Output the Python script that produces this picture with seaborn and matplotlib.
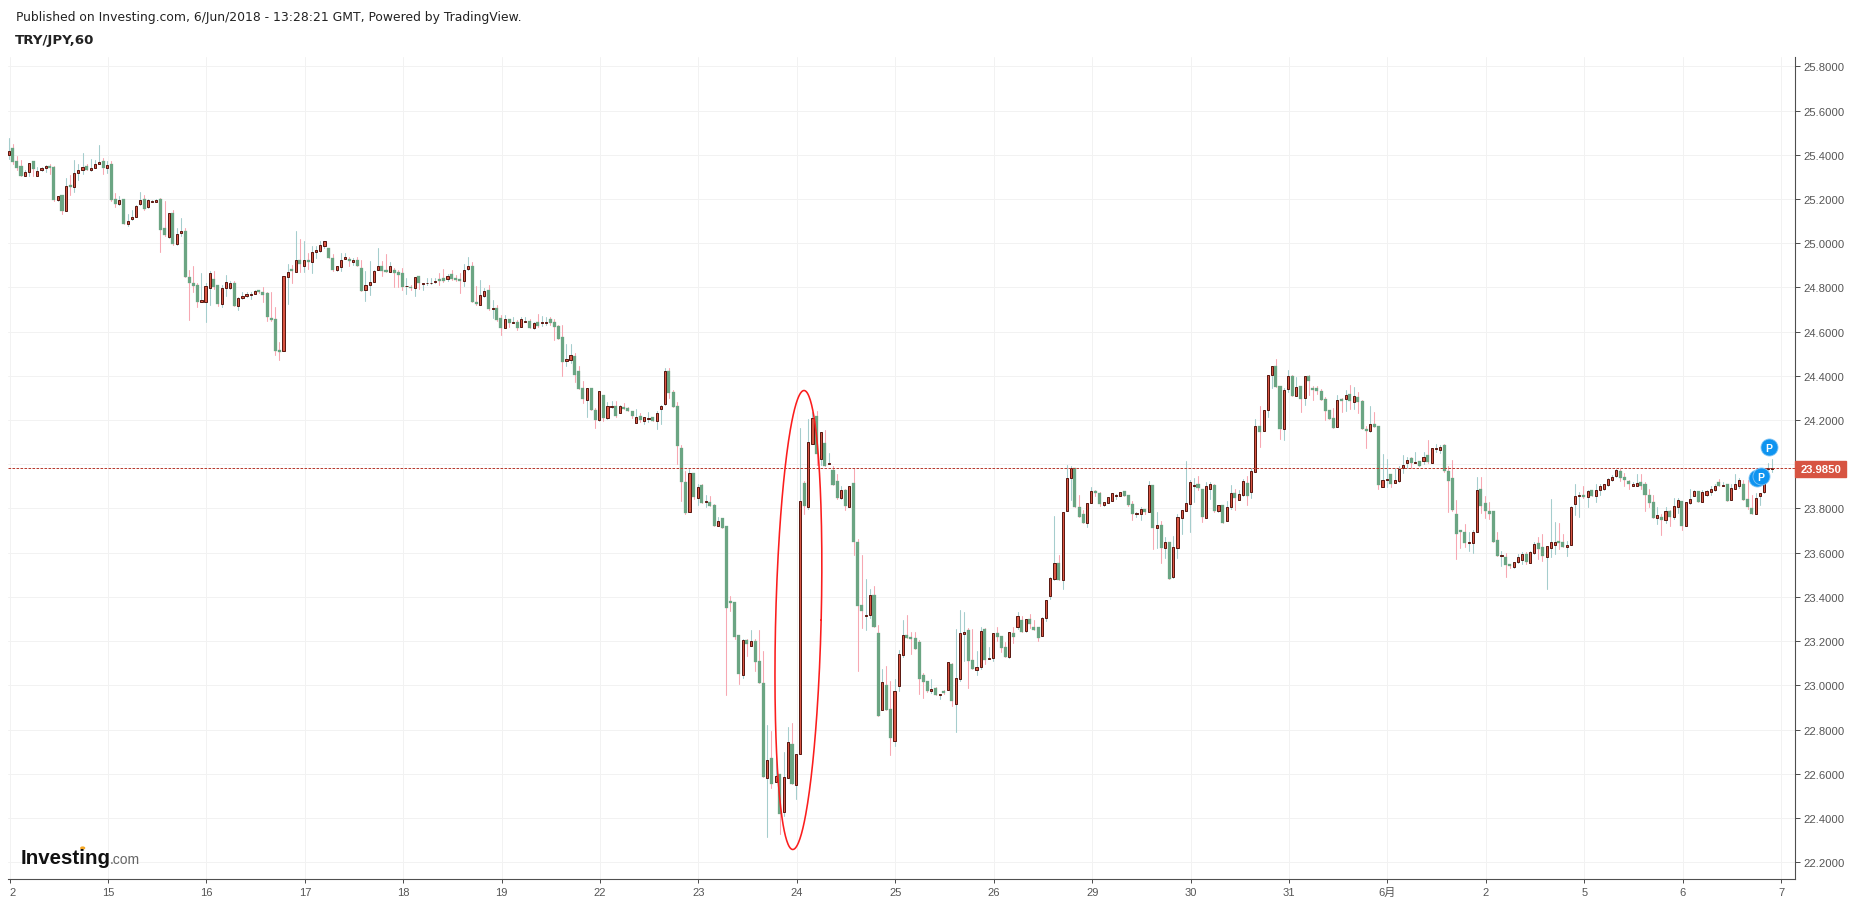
import numpy as np
import pandas as pd
import matplotlib
matplotlib.use("Agg")
import matplotlib.pyplot as plt
import seaborn as sns

# every row: open, high, low, close
d02 = [(25.398,25.474,25.380,25.418),(25.429,25.447,25.356,25.365),(25.370,25.395,25.329,25.338),(25.347,25.377,25.303,25.303),
(25.303,25.329,25.303,25.320),(25.322,25.361,25.303,25.361),(25.370,25.370,25.305,25.335),(25.303,25.346,25.303,25.328),
(25.331,25.346,25.326,25.338),(25.340,25.353,25.323,25.347),(25.347,25.356,25.313,25.338),(25.343,25.350,25.193,25.195),
(25.195,25.215,25.193,25.215),(25.216,25.216,25.130,25.145),(25.145,25.293,25.145,25.260),(25.261,25.308,25.218,25.252),
(25.254,25.377,25.231,25.319),(25.317,25.356,25.285,25.332),(25.331,25.406,25.311,25.346),(25.347,25.356,25.329,25.329),
(25.331,25.379,25.326,25.338),(25.340,25.377,25.338,25.359),(25.359,25.442,25.358,25.368),(25.370,25.386,25.313,25.338)]
d15 = [(25.340,25.370,25.316,25.355),(25.356,25.373,25.193,25.195),(25.198,25.228,25.162,25.175),(25.177,25.212,25.172,25.196),
(25.198,25.198,25.086,25.086),(25.086,25.130,25.077,25.101),(25.109,25.148,25.106,25.120),(25.118,25.172,25.117,25.169),
(25.177,25.230,25.172,25.196),(25.198,25.218,25.150,25.153),(25.162,25.198,25.157,25.196),(25.186,25.196,25.184,25.192),
(25.186,25.198,25.184,25.196),(25.198,25.205,24.958,25.059),(25.067,25.193,25.034,25.037),(25.028,25.138,25.025,25.138),
(25.135,25.148,24.994,24.996),(24.996,25.067,24.991,25.043),(25.046,25.112,25.034,25.056),(25.053,25.067,24.845,24.847),
(24.848,24.878,24.651,24.818),(24.818,24.899,24.777,24.806),(24.809,24.822,24.711,24.733),(24.733,24.863,24.733,24.744)]
d16 = [(24.733,24.818,24.642,24.807),(24.798,24.875,24.720,24.866),(24.836,24.875,24.795,24.803),(24.809,24.809,24.714,24.724),
(24.724,24.813,24.711,24.798),(24.797,24.854,24.761,24.824),(24.798,24.828,24.795,24.822),(24.822,24.831,24.715,24.715),
(24.715,24.758,24.696,24.753),(24.752,24.777,24.747,24.762),(24.761,24.780,24.758,24.768),(24.765,24.780,24.746,24.770),
(24.770,24.788,24.768,24.785),(24.786,24.786,24.773,24.780),(24.777,24.804,24.733,24.765),(24.773,24.777,24.648,24.664),
(24.661,24.777,24.649,24.652),(24.657,24.713,24.494,24.512),(24.516,24.551,24.471,24.507),(24.513,24.851,24.513,24.851),
(24.847,24.904,24.724,24.871),(24.881,24.901,24.818,24.872),(24.868,25.056,24.868,24.925),(24.926,25.021,24.868,24.904)]
d17 = [(24.896,25.012,24.868,24.925),(24.925,24.955,24.883,24.914),(24.914,24.988,24.865,24.961),(24.960,24.988,24.931,24.967),
(24.964,25.012,24.961,24.990),(24.988,25.008,24.979,25.008),(24.976,24.976,24.933,24.933),(24.934,24.949,24.874,24.877),
(24.878,24.895,24.874,24.895),(24.892,24.954,24.874,24.925),(24.928,24.954,24.928,24.936),(24.930,24.939,24.896,24.919),
(24.913,24.934,24.901,24.922),(24.922,24.939,24.896,24.896),(24.886,24.923,24.783,24.783),(24.788,24.875,24.738,24.809),
(24.810,24.919,24.765,24.825),(24.824,24.878,24.824,24.875),(24.878,24.976,24.878,24.898),(24.899,24.919,24.851,24.874),
(24.878,24.949,24.869,24.869),(24.869,24.916,24.868,24.898),(24.877,24.886,24.801,24.865),(24.868,24.880,24.801,24.856)]
d18 = [(24.863,24.886,24.788,24.801),(24.805,24.841,24.768,24.808),(24.803,24.810,24.788,24.797),(24.797,24.848,24.761,24.848),
(24.850,24.850,24.795,24.822),(24.816,24.822,24.786,24.819),(24.819,24.841,24.813,24.822),(24.820,24.841,24.816,24.822),
(24.824,24.841,24.822,24.831),(24.836,24.863,24.813,24.828),(24.841,24.881,24.825,24.828),(24.838,24.860,24.828,24.853),
(24.859,24.878,24.833,24.836),(24.842,24.856,24.831,24.833),(24.838,24.863,24.773,24.828),(24.828,24.908,24.806,24.880),
(24.883,24.936,24.878,24.898),(24.899,24.913,24.733,24.733),(24.736,24.807,24.720,24.724),(24.722,24.833,24.722,24.764),
(24.762,24.796,24.756,24.782),(24.788,24.811,24.699,24.702),(24.703,24.743,24.661,24.706),(24.706,24.720,24.649,24.652)]
d19 = [(24.661,24.675,24.584,24.616),(24.618,24.675,24.616,24.655),(24.657,24.657,24.622,24.639),(24.640,24.664,24.639,24.643),
(24.643,24.654,24.607,24.616),(24.622,24.664,24.619,24.655),(24.644,24.664,24.643,24.648),(24.648,24.657,24.616,24.616),
(24.616,24.642,24.611,24.639),(24.643,24.679,24.623,24.625),(24.640,24.672,24.627,24.643),(24.640,24.664,24.631,24.643),
(24.657,24.664,24.630,24.639),(24.643,24.657,24.562,24.622),(24.625,24.630,24.566,24.566),(24.575,24.630,24.399,24.462),
(24.467,24.544,24.443,24.476),(24.473,24.544,24.458,24.494),(24.488,24.503,24.372,24.403),(24.421,24.443,24.340,24.340),
(24.345,24.376,24.277,24.295),(24.292,24.345,24.213,24.345),(24.345,24.345,24.245,24.245),(24.245,24.253,24.164,24.200)]
d22 = [(24.200,24.331,24.197,24.331),(24.313,24.313,24.195,24.209),(24.210,24.283,24.207,24.262),(24.258,24.288,24.256,24.262),
(24.263,24.286,24.216,24.218),(24.233,24.268,24.230,24.262),(24.259,24.277,24.250,24.250),(24.254,24.259,24.241,24.241),
(24.241,24.241,24.209,24.218),(24.188,24.250,24.186,24.216),(24.218,24.231,24.191,24.200),(24.197,24.216,24.182,24.212),
(24.205,24.236,24.191,24.208),(24.213,24.216,24.195,24.195),(24.197,24.240,24.159,24.234),(24.251,24.268,24.182,24.263),
(24.274,24.435,24.269,24.420),(24.421,24.435,24.299,24.322),(24.326,24.336,24.259,24.259),(24.263,24.280,24.001,24.084),
(24.073,24.087,23.834,23.921),(23.920,23.971,23.775,23.778),(23.785,23.978,23.785,23.959),(23.960,23.960,23.843,23.852)]
d23 = [(23.849,23.910,23.817,23.895),(23.906,23.910,23.826,23.826),(23.830,23.861,23.808,23.833),(23.828,23.855,23.812,23.812),
(23.815,23.820,23.722,23.722),(23.722,23.761,23.719,23.743),(23.755,23.755,23.713,23.713),(23.720,23.720,22.957,23.352),
(23.382,23.402,23.338,23.374),(23.377,23.377,23.210,23.219),(23.228,23.228,23.006,23.052),(23.049,23.210,23.034,23.204),
(23.205,23.210,23.133,23.189),(23.180,23.251,23.180,23.199),(23.201,23.210,23.067,23.107),(23.110,23.251,23.011,23.011),
(23.011,23.156,22.586,22.586),(22.583,22.821,22.316,22.661),(22.672,22.795,22.537,22.556),(22.565,22.676,22.565,22.589),
(22.599,22.599,22.328,22.418),(22.429,22.700,22.411,22.584),(22.583,22.812,22.583,22.743),(22.735,22.830,22.554,22.554)]
d24 = [(22.551,22.688,22.486,22.688),(22.691,24.164,22.691,23.836),(23.915,23.924,23.775,23.811),(23.809,24.205,23.797,24.103),
(24.093,24.235,24.093,24.209),(24.217,24.239,23.996,24.046),(24.025,24.144,23.996,24.144),(24.096,24.155,23.993,23.993),
(24.002,24.051,24.001,24.006),(23.974,23.990,23.907,23.907),(23.924,23.956,23.844,23.847),(23.847,23.903,23.844,23.882),
(23.883,23.888,23.793,23.811),(23.808,23.900,23.808,23.900),(23.915,23.981,23.589,23.650),(23.648,23.660,23.064,23.360),
(23.363,23.589,23.261,23.337),(23.312,23.481,23.250,23.318),(23.319,23.435,23.307,23.411),(23.411,23.448,23.265,23.265),
(23.237,23.275,22.863,22.863),(22.890,23.074,22.890,23.014),(23.002,23.086,22.890,22.890),(22.893,23.020,22.687,22.762)]
d25 = [(22.750,23.029,22.727,22.973),(22.999,23.160,22.973,23.141),(23.139,23.296,23.130,23.227),(23.228,23.319,23.215,23.215),
(23.219,23.240,23.142,23.210),(23.215,23.240,23.166,23.166),(23.196,23.204,22.963,23.031),(23.047,23.056,22.943,23.017),
(23.020,23.020,22.969,22.975),(22.976,23.029,22.964,22.984),(22.988,22.993,22.958,22.958),(22.956,22.962,22.939,22.959),
(22.976,22.979,22.963,22.966),(22.978,23.104,22.978,23.104),(23.097,23.101,22.908,22.930),(22.917,23.255,22.789,23.032),
(23.028,23.341,23.021,23.237),(23.234,23.332,23.112,23.242),(23.251,23.260,22.988,23.112),(23.115,23.255,23.076,23.076),
(23.071,23.156,23.049,23.083),(23.085,23.264,23.076,23.246),(23.255,23.260,23.097,23.116),(23.119,23.174,23.118,23.123)]
d26 = [(23.126,23.237,23.112,23.237),(23.237,23.264,23.201,23.219),(23.224,23.224,23.151,23.169),(23.174,23.195,23.129,23.129),
(23.129,23.243,23.126,23.240),(23.237,23.264,23.192,23.219),(23.266,23.332,23.255,23.313),(23.296,23.314,23.242,23.242),
(23.245,23.300,23.242,23.299),(23.300,23.323,23.260,23.278),(23.264,23.296,23.251,23.251),(23.264,23.264,23.201,23.215),
(23.225,23.311,23.222,23.306),(23.306,23.385,23.293,23.385),(23.406,23.489,23.391,23.484),(23.483,23.767,23.478,23.552),
(23.552,23.589,23.477,23.477),(23.478,23.782,23.435,23.782),(23.790,23.996,23.790,23.936),(23.936,23.993,23.840,23.981),
(23.981,23.981,23.808,23.808),(23.806,23.861,23.763,23.763),(23.775,23.793,23.736,23.736),(23.736,23.823,23.717,23.823)]
d29 = [(23.823,23.895,23.823,23.877),(23.877,23.882,23.858,23.871),(23.870,23.873,23.812,23.820),(23.817,23.831,23.812,23.828),
(23.826,23.850,23.826,23.850),(23.835,23.868,23.834,23.868),(23.857,23.865,23.843,23.860),(23.858,23.876,23.858,23.876),
(23.879,23.879,23.856,23.856),(23.861,23.861,23.812,23.815),(23.820,23.832,23.748,23.775),(23.775,23.785,23.763,23.778),
(23.776,23.806,23.748,23.796),(23.797,23.797,23.775,23.784),(23.785,23.926,23.785,23.906),(23.906,23.906,23.616,23.711),
(23.713,23.785,23.621,23.725),(23.725,23.743,23.553,23.621),(23.621,23.671,23.576,23.647),(23.648,23.648,23.481,23.481),
(23.491,23.677,23.487,23.624),(23.622,23.775,23.576,23.760),(23.755,23.791,23.684,23.791),(23.790,24.015,23.790,23.823)]
d30 = [(23.821,23.929,23.695,23.918),(23.901,23.938,23.828,23.905),(23.910,23.947,23.885,23.894),(23.888,23.888,23.740,23.763),
(23.758,23.918,23.758,23.900),(23.886,23.918,23.843,23.913),(23.906,23.910,23.785,23.788),(23.790,23.814,23.785,23.814),
(23.815,23.815,23.736,23.736),(23.742,23.832,23.742,23.805),(23.805,23.906,23.797,23.868),(23.870,23.888,23.793,23.847),
(23.840,23.883,23.840,23.864),(23.862,23.933,23.858,23.923),(23.915,23.947,23.817,23.858),(23.873,23.981,23.846,23.968),
(23.963,24.205,23.963,24.171),(24.171,24.263,24.078,24.147),(24.149,24.244,24.149,24.244),(24.244,24.402,24.214,24.402),
(24.402,24.443,24.345,24.443),(24.443,24.476,24.351,24.351),(24.352,24.352,24.114,24.161),(24.161,24.346,24.110,24.334)]
d31 = [(24.342,24.426,24.328,24.398),(24.398,24.404,24.309,24.309),(24.310,24.396,24.310,24.348),(24.352,24.352,24.236,24.295),
(24.301,24.398,24.268,24.398),(24.399,24.404,24.313,24.376),(24.345,24.354,24.290,24.336),(24.345,24.354,24.318,24.331),
(24.331,24.340,24.290,24.290),(24.295,24.304,24.200,24.241),(24.245,24.245,24.205,24.205),(24.209,24.254,24.164,24.164),
(24.170,24.313,24.170,24.289),(24.295,24.300,24.236,24.286),(24.297,24.336,24.241,24.312),(24.318,24.358,24.250,24.286),
(24.283,24.349,24.250,24.307),(24.304,24.327,24.232,24.281),(24.286,24.290,24.159,24.159),(24.159,24.173,24.073,24.150),
(24.152,24.263,24.147,24.180),(24.182,24.236,24.168,24.168),(24.173,24.173,23.888,23.906),(23.898,24.046,23.898,23.927)]
djun1 = [(23.928,24.024,23.895,23.933),(23.956,23.956,23.897,23.910),(23.916,23.981,23.916,23.929),(23.926,23.993,23.918,23.978),
(23.981,24.042,23.960,23.999),(24.005,24.033,23.981,24.018),(24.028,24.033,23.981,24.005),(24.006,24.055,24.005,24.010),
(24.015,24.015,23.992,23.992),(24.015,24.054,24.001,24.031),(24.042,24.110,24.005,24.010),(24.007,24.072,24.007,24.072),
(24.068,24.091,24.054,24.072),(24.066,24.087,24.051,24.078),(24.087,24.091,23.965,23.969),(23.969,23.992,23.784,23.924),
(23.936,24.018,23.788,23.791),(23.773,23.837,23.571,23.684),(23.701,23.701,23.622,23.692),(23.692,23.728,23.624,23.642),
(23.645,23.695,23.607,23.650),(23.645,23.705,23.597,23.695),(23.693,23.941,23.693,23.885),(23.886,23.941,23.778,23.811)]
djun2 = [(23.823,23.855,23.755,23.787),(23.787,23.828,23.752,23.775),(23.787,23.787,23.647,23.647),(23.656,23.692,23.583,23.583),
(23.585,23.606,23.540,23.589),(23.579,23.597,23.488,23.543),(23.547,23.547,23.529,23.538),(23.536,23.559,23.533,23.559),
(23.559,23.592,23.552,23.582),(23.568,23.604,23.549,23.595),(23.592,23.604,23.549,23.559),(23.553,23.607,23.553,23.604),
(23.598,23.647,23.595,23.641),(23.642,23.672,23.571,23.619),(23.624,23.683,23.561,23.583),(23.580,23.632,23.435,23.632),
(23.622,23.841,23.580,23.647),(23.634,23.737,23.592,23.650),(23.654,23.733,23.619,23.642),(23.647,23.683,23.624,23.624),
(23.627,23.654,23.586,23.633),(23.636,23.812,23.636,23.809),(23.820,23.909,23.770,23.858),(23.856,23.873,23.761,23.862)]
djun5 = [(23.862,23.900,23.846,23.850),(23.850,23.885,23.809,23.880),(23.882,23.885,23.855,23.855),(23.855,23.909,23.828,23.885),
(23.882,23.909,23.859,23.903),(23.888,23.913,23.882,23.913),(23.906,23.936,23.903,23.932),(23.929,23.951,23.926,23.941),
(23.945,23.977,23.942,23.972),(23.968,23.977,23.924,23.938),(23.941,23.959,23.901,23.927),(23.923,23.927,23.886,23.909),
(23.900,23.921,23.900,23.913),(23.900,23.954,23.900,23.916),(23.918,23.954,23.886,23.904),(23.909,23.918,23.787,23.859),
(23.859,23.886,23.809,23.823),(23.828,23.859,23.755,23.755),(23.755,23.809,23.728,23.769),(23.760,23.773,23.678,23.746),
(23.746,23.809,23.733,23.787),(23.787,23.791,23.719,23.760),(23.760,23.846,23.751,23.812),(23.806,23.846,23.778,23.837)]
djun6 = [(23.832,23.832,23.705,23.719),(23.719,23.828,23.719,23.828),(23.825,23.886,23.821,23.841),(23.855,23.882,23.855,23.877),
(23.877,23.877,23.828,23.828),(23.828,23.882,23.828,23.873),(23.859,23.882,23.855,23.877),(23.873,23.900,23.859,23.886),
(23.882,23.909,23.877,23.904),(23.918,23.932,23.900,23.900),(23.904,23.918,23.903,23.908),(23.913,23.913,23.832,23.832),
(23.837,23.909,23.837,23.891),(23.886,23.954,23.886,23.909),(23.904,23.936,23.891,23.927),(23.909,23.927,23.837,23.837),
(23.841,23.927,23.796,23.809),(23.800,23.859,23.773,23.773),(23.775,23.868,23.773,23.846),(23.858,23.868,23.814,23.868),
(23.873,23.974,23.868,23.921),(23.979,24.004,23.974,23.982),(23.980,24.022,23.963,23.985)]

x_tick_labels = ["2","15","16","17","18","19","22","23","24","25","26","29","30","31","6月","2","5","6","7"]
y_ticks = [22.2,22.4,22.6,22.8,23.0,23.2,23.4,23.6,23.8,24.0,24.2,24.4,24.6,24.8,25.0,25.2,25.4,25.6,25.8]
last_price = 23.985
pin_bar = [426.3, 427.3, 429.2]
pin_price = [23.938, 23.947, 24.078]

GREEN, RED, EDGE = "#6ba583", "#d75442", "#5b1a13"
TEAL, PINK = "#a5cdcd", "#f7a8b2"
GRID, AXC, TXT = "#f2f2f2", "#4f4f4f", "#555555"

days = [d02,d15,d16,d17,d18,d19,d22,d23,d24,d25,d26,d29,d30,d31,djun1,djun2,djun5,djun6]
df = pd.DataFrame([r for d in days for r in d], columns=["o","h","l","c"])
df["i"] = np.arange(len(df))
df["up"] = df.c >= df.o

W, H = 1853, 904
L, R, T, B = 8, 1795, 58, 880
sns.set_theme(style="white", rc={"font.family": ["Liberation Sans", "Noto Sans CJK JP", "DejaVu Sans"]})
plt.rcParams["font.family"] = ["Liberation Sans", "Noto Sans CJK JP", "DejaVu Sans"]
fig = plt.figure(figsize=(W/100, H/100), dpi=100, facecolor="white")
ax = fig.add_axes([L/W, 1-B/H, (R-L)/W, (B-T)/H])
ax.set_facecolor("white")
px = 0.72

# wicks
long = df.melt(id_vars=["i","up"], value_vars=["l","h"], value_name="price")
long = long.sort_values(["i","price"])
sns.lineplot(data=long, x="i", y="price", units="i", hue="up", estimator=None, sort=False,
             palette={True: TEAL, False: PINK}, linewidth=1.05*px, legend=False, ax=ax,
             zorder=2, clip_on=False)

# bodies
dn = df[~df.up]; up = df[df.up]
ax.bar(dn.i, (dn.o-dn.c), bottom=dn.c, width=0.74, color=GREEN, edgecolor=GREEN, linewidth=0.2, zorder=3, clip_on=False)
ax.bar(up.i, (up.c-up.o), bottom=up.o, width=0.52, color=RED, edgecolor=EDGE, linewidth=1.0*px, zorder=4, clip_on=False)

# axes
ax.set_xlim((L-8.7)/4.101, (R-8.7)/4.101)
ax.set_ylim(25.8-(B-67.3)/221.1, 25.8-(T-67.3)/221.1)
xt = [0.2+24*k for k in range(len(x_tick_labels))]
ax.set_xticks(xt); ax.set_xticklabels(x_tick_labels)
ax.set_yticks(y_ticks)
ax.set_yticklabels(["" if abs(v-24.0) < 1e-9 else f"{v:.4f}" for v in y_ticks])
ax.set_xlabel(""); ax.set_ylabel("")
ax.yaxis.tick_right()
ax.grid(True, color=GRID, linewidth=1.0*px, zorder=0)
ax.set_axisbelow(True)
for s in ["top","left"]:
    ax.spines[s].set_visible(False)
for s in ["bottom","right"]:
    ax.spines[s].set_visible(True); ax.spines[s].set_color(AXC); ax.spines[s].set_linewidth(1.1*px)
ax.tick_params(axis="x", length=3, width=px, color=AXC, labelcolor=TXT, labelsize=8, pad=3, bottom=True)
ax.tick_params(axis="y", length=3.6, width=px, color=AXC, labelcolor=TXT, labelsize=8.1, pad=2.5, right=True, left=False)
ax.get_xticklabels()[0].set_ha("left")

# last price line + label
ax.axhline(last_price, color="#b93c30", linewidth=1.0*px, linestyle=(0,(2.6,1.4)), zorder=6)
fig.patches.append(plt.Rectangle((1795/W, 1-478/H), 51/W, 16/H, transform=fig.transFigure, color=RED, zorder=7))
fig.text(1821.5/W, 1-470.2/H, "23.9850", color="white", fontsize=8.1, fontweight="bold", ha="center", va="center", zorder=8)

# hand-drawn ellipse annotation
t = np.linspace(0, 2*np.pi, 300)
cx, cy = (798.4-8.7)/4.101, 25.8-(621-67.3)/221.1
ax.plot(cx+5.55*np.cos(t)+1.37*np.sin(t), cy+1.038*np.sin(t), color="#fb1d1d", linewidth=1.6*px, zorder=9, clip_on=False)

# publication pins
sns.scatterplot(x=pin_bar, y=pin_price, s=150, color="#0e94f0", edgecolor="#7fc4f5", linewidth=0.6, ax=ax, zorder=10, clip_on=False, legend=False)
for a, b in zip(pin_bar[1:], pin_price[1:]):
    ax.text(a, b, "P", color="white", fontsize=7.5, fontweight="bold", ha="center", va="center_baseline", zorder=11)

# header
fig.text(16/W, 1-18/H, "Published on Investing.com, 6/Jun/2018 - 13:28:21 GMT, Powered by TradingView.",
         family=["DejaVu Sans"], fontsize=8.93, color="#222222", va="center", ha="left")
fig.text(15/W, 1-40.5/H, "TRY/JPY,60", family=["DejaVu Sans"], fontweight="bold", fontsize=9.6, color="#222222", va="center", ha="left")

# watermark
fig.text(21/W, 1-864/H, "Investing", fontsize=14.8, fontweight="bold", color="#111111", va="baseline", ha="left")
fig.text(110/W, 1-864/H, ".com", fontsize=10, color="#666666", va="baseline", ha="left")
fig.add_artist(plt.Circle((82.7/W, 1-849/H), 0.001, color="#f5a623", transform=fig.transFigure))

fig.savefig("out.png", dpi=100, facecolor="white")
